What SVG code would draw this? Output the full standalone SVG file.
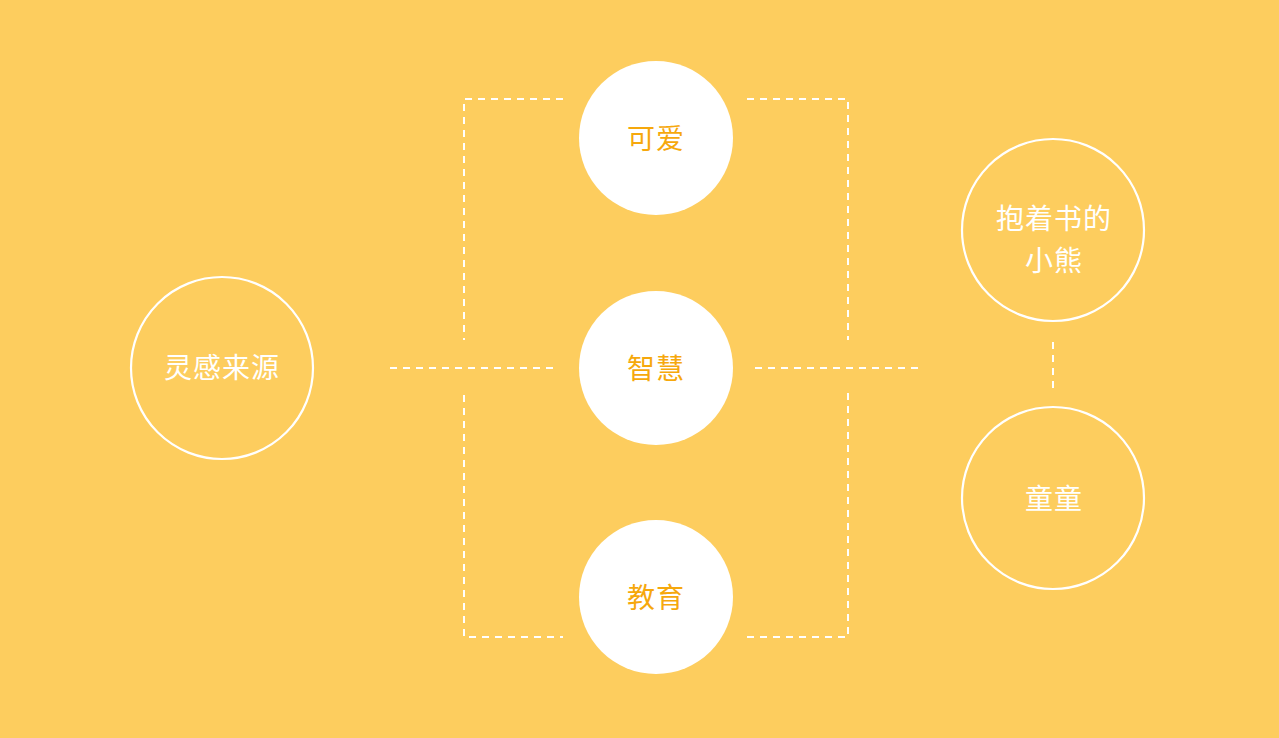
<svg xmlns="http://www.w3.org/2000/svg" width="1279" height="738" viewBox="0 0 1279 738">
<style>
.bg{fill:#FDCD5E}
.ring{fill:none;stroke:#FFFFFF;stroke-width:2.2}
.solid{fill:#FFFFFF}
.dash{fill:none;stroke:#FFFFFF;stroke-width:2;stroke-dasharray:7 6}
.t{font-family:"Noto Sans CJK SC","Noto Sans",sans-serif;font-size:28px;text-anchor:middle;dominant-baseline:central;letter-spacing:1px}
.tw{fill:#FFFFFF}
.to{fill:#F6A80C}
</style>
<rect class="bg" x="0" y="0" width="1279" height="738"/>
<g id="connectors">
<path class="dash" d="M563 99 H464 V340"/>
<path class="dash" d="M747 99 H848 V340"/>
<path class="dash" d="M464 395 V637 H563"/>
<path class="dash" d="M848 393 V637 H747"/>
<path class="dash" d="M390 368 H557"/>
<path class="dash" d="M755 368 H918"/>
<path class="dash" d="M1053 342 V390"/>
</g>
<g id="node-source">
<circle class="ring" cx="222" cy="368" r="91"/>
<text class="t tw" x="222" y="366">灵感来源</text>
</g>
<g id="node-cute">
<circle class="solid" cx="656" cy="138" r="77"/>
<text class="t to" x="656" y="137">可爱</text>
</g>
<g id="node-wisdom">
<circle class="solid" cx="656" cy="368" r="77"/>
<text class="t to" x="656" y="367">智慧</text>
</g>
<g id="node-education">
<circle class="solid" cx="656" cy="597" r="77"/>
<text class="t to" x="656" y="596">教育</text>
</g>
<g id="node-bear">
<circle class="ring" cx="1053" cy="230" r="91"/>
<text class="t tw" x="1054" y="217">抱着书的</text>
<text class="t tw" x="1054" y="259">小熊</text>
</g>
<g id="node-tongtong">
<circle class="ring" cx="1053" cy="498" r="91"/>
<text class="t tw" x="1054" y="497">童童</text>
</g>
</svg>
